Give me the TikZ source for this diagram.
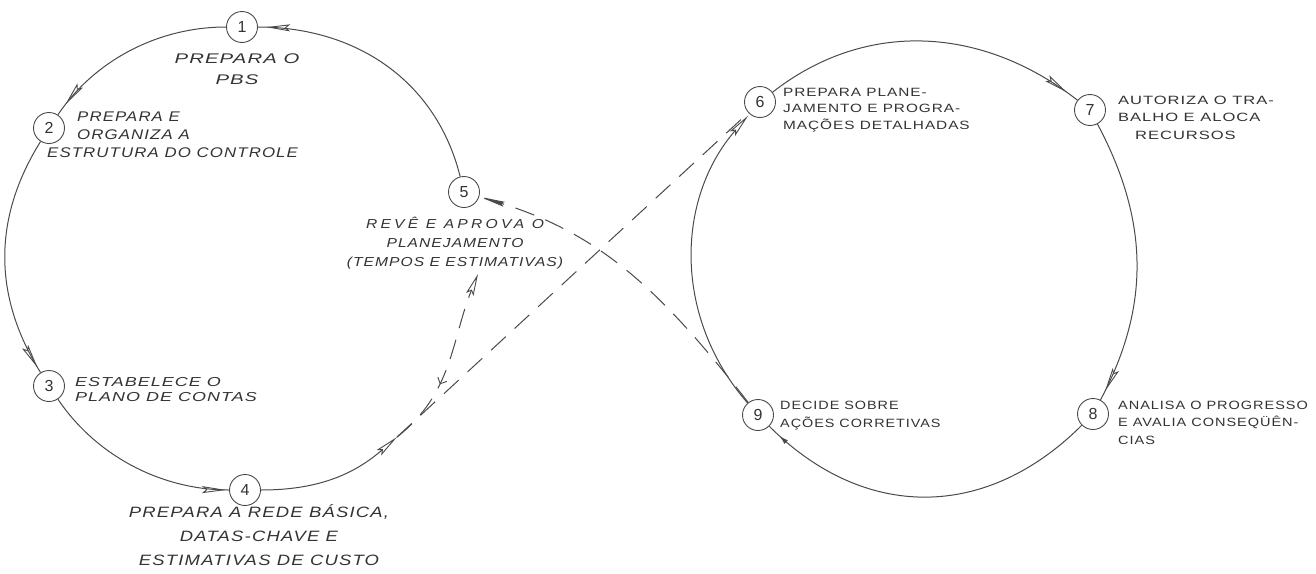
\documentclass[tikz,border=0pt]{standalone}
\usepackage{fontspec}
\setmainfont{Liberation Sans}
\newfontfamily\hand[LetterSpace=8]{Liberation Sans}
\usetikzlibrary{arrows.meta,decorations.markings}
\definecolor{ink}{HTML}{4A4A4A}
\definecolor{txt}{HTML}{333333}
\newcommand{\ls}[1]{\addfontfeature{LetterSpace=#1}}
\newcommand{\fs}[1]{\addfontfeature{FakeStretch=#1}}
\tikzset{
  num/.style={circle,draw=ink,line width=0.9pt,minimum size=31pt,inner sep=0pt,
    font=\fontsize{16}{16}\selectfont,text=txt},
  lbl/.style n args={3}{font=\hand\itshape\fs{#3}\fontsize{#1}{#2}\selectfont,text=txt,inner sep=0pt},
  lblu/.style n args={3}{font=\hand\fs{#3}\fontsize{#1}{#2}\selectfont,text=txt,inner sep=0pt},
  cyc/.style={draw=ink,line width=1pt},
  dsh/.style={draw=ink,line width=1pt,dash pattern=on 20pt off 12pt},
  otip/.tip={Stealth[open,length=24pt,width=7pt,inset=4pt,line width=0.9pt]},
  ftip/.tip={Latex[length=9pt,width=5pt]},
  ltip/.tip={Stealth[length=26pt,width=5pt,inset=3pt]},
  oarr/.style={postaction={decorate,decoration={markings,
    mark=at position #1 with {\arrow{otip}}}}},
  farr/.style={postaction={decorate,decoration={markings,
    mark=at position #1 with {\arrow{ftip}}}}},
  chev/.style={postaction={decorate,decoration={markings,
    mark=at position #1 with {\arrowreversed{Straight Barb[length=5pt,width=10pt,line width=0.9pt]}}}}}
}
\begin{document}
\begin{tikzpicture}[x=1pt,y=1pt]
\useasboundingbox (0,0) rectangle (1316,-573);
\fill[white] (0,0) rectangle (1316,-573);
% numbered circles
\node[num] (n1) at (242,-27) {1};
\node[num] (n2) at (49,-128) {2};
\node[num] (n3) at (49,-386) {3};
\node[num] (n4) at (245,-490) {4};
\node[num] (n5) at (464,-192) {5};
\node[num] (n6) at (760,-102) {6};
\node[num] (n7) at (1090,-110) {7};
\node[num] (n8) at (1093,-414) {8};
\node[num] (n9) at (758,-415) {9};
\coordinate (J) at (397,-437);
\coordinate (A5) at (478,-274);
% labels
\node[lbl={14}{21}{1.45},align=center,anchor=north] (t1) at (237,-54) {PREPARA O\\PBS};
\node[lbl={14}{18}{1.2},align=left,anchor=north west] (t2) at (47,-112)
  {\hspace*{30pt}PREPARA E\\\hspace*{30pt}ORGANIZA A\\ESTRUTURA DO CONTROLE};
\node[lbl={13}{15}{1.38},align=left,anchor=north west] (t3) at (75,-377)
  {ESTABELECE O\\PLANO DE CONTAS};
\node[lbl={15}{24}{1.23},align=center,anchor=north] (t4) at (259,-504.5)
  {PREPARA A REDE BÁSICA,\\DATAS-CHAVE E\\ESTIMATIVAS DE CUSTO};
\node[lbl={13}{19}{1.2},align=center,anchor=north] (t5) at (455,-216.5)
  {{\ls{25}REVÊ E APROVA O}\\PLANEJAMENTO\\(TEMPOS E ESTIMATIVAS)};
\node[lblu={12}{16.5}{1.28},align=left,anchor=north west] (t6) at (783,-87.7)
  {PREPARA PLANE-\\JAMENTO E PROGRA-\\MAÇÕES DETALHADAS};
\node[lblu={12}{17.5}{1.38},align=left,anchor=north west] (t7) at (1118,-95.7)
  {AUTORIZA O TRA-\\BALHO E ALOCA\\\hspace*{17pt}RECURSOS};
\node[lblu={12}{17.5}{1.21},align=left,anchor=north west] (t8) at (1118,-400.7)
  {ANALISA O PROGRESSO\\E AVALIA CONSEQÜÊN-\\CIAS};
\node[lblu={12}{18}{1.2},align=left,anchor=north west] (t9) at (780,-400.7)
  {DECIDE SOBRE\\AÇÕES CORRETIVAS};
% left cycle
\draw[cyc,oarr=0.97] (n5) to[out=104,in=0] (n1);
\draw[cyc,oarr=0.935] (n1) to[out=180,in=56,looseness=0.9] (n2);
\draw[cyc,oarr=0.975] (n2) to[out=238,in=122] (n3);
\draw[cyc,oarr=0.985] (n3) to[out=-56,in=180,looseness=0.9] (n4);
\draw[cyc,-otip] (n4) to[out=0,in=221] (J);
% crossing dashed links
\draw[dsh,-{Stealth[open,length=22pt,width=8pt,inset=4pt,line width=0.9pt]},chev=0.37] (J) to[out=38,in=-112] (A5);
\draw[dsh] (J) -- (n6);
\draw[dsh,-ltip] (n9) to[out=128,in=-17] (n5);
% right cycle
\draw[cyc,oarr=0.96] (n6) to[out=38,in=142] (n7);
\draw[cyc,oarr=0.965] (n7) to[out=-62,in=62] (n8);
\draw[cyc,farr=0.96] (n8) to[out=-135,in=-45,looseness=1.1] (n9);
\draw[cyc,-otip,shorten >=2pt] (n9) to[out=131,in=-131] (n6);
\end{tikzpicture}
\end{document}
